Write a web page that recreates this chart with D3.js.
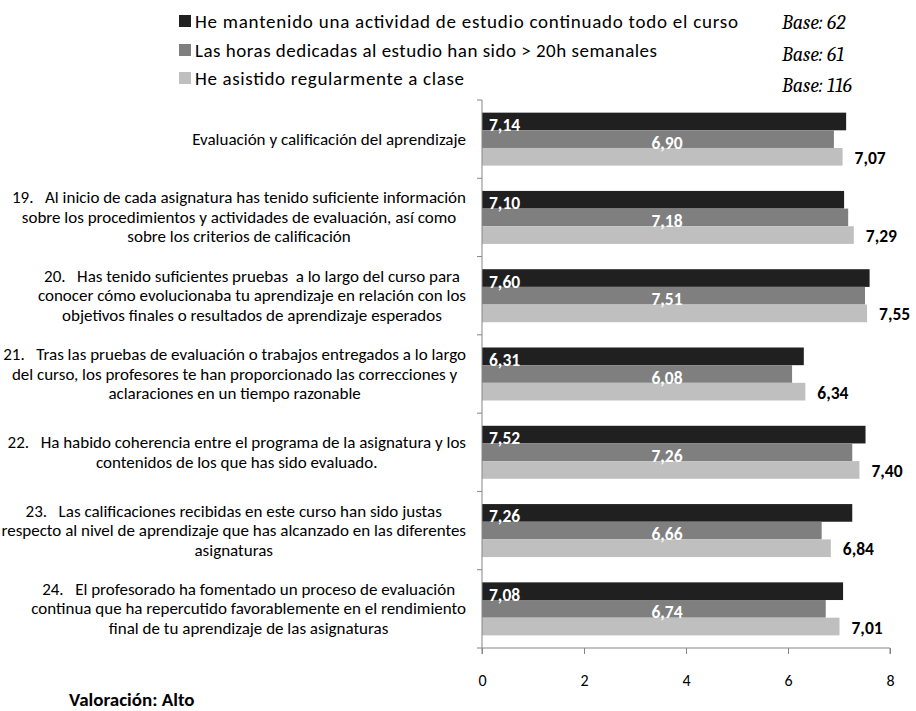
<!DOCTYPE html>
<html>
<head>
<meta charset="utf-8">
<script src="https://cdn.jsdelivr.net/npm/d3@7"></script>
<style>
  html, body { margin: 0; padding: 0; background: #fff; }
  svg { display: block; }
  text { white-space: pre; }
</style>
</head>
<body>
<svg id="chart" width="916" height="711"></svg>
<script>
// ---------- DATA ----------
const categories = [
  ["Evaluación y calificación del aprendizaje"],
  ["19.   Al inicio de cada asignatura has tenido suficiente información",
   "sobre los procedimientos y actividades de evaluación, así como",
   "sobre los criterios de calificación"],
  ["20.   Has tenido suficientes pruebas  a lo largo del curso para",
   "conocer cómo evolucionaba tu aprendizaje en relación con los",
   "objetivos finales o resultados de aprendizaje esperados"],
  ["21.   Tras las pruebas de evaluación o trabajos entregados a lo largo",
   "del curso, los profesores te han proporcionado las correcciones y",
   "aclaraciones en un tiempo razonable"],
  ["22.   Ha habido coherencia entre el programa de la asignatura y los",
   "contenidos de los que has sido evaluado."],
  ["23.   Las calificaciones recibidas en este curso han sido justas",
   "respecto al nivel de aprendizaje que has alcanzado en las diferentes",
   "asignaturas"],
  ["24.   El profesorado ha fomentado un proceso de evaluación",
   "continua que ha repercutido favorablemente en el rendimiento",
   "final de tu aprendizaje de las asignaturas"]
];
const seriesNames = [
  "He mantenido una actividad de estudio continuado todo el curso",
  "Las horas dedicadas al estudio han sido > 20h semanales",
  "He asistido regularmente a clase"
];
const bases = ["Base: 62", "Base: 61", "Base: 116"];
const valuesContinuo = [7.14, 7.10, 7.60, 6.31, 7.52, 7.26, 7.08];
const valuesHoras    = [6.90, 7.18, 7.51, 6.08, 7.26, 6.66, 6.74];
const valuesAsistido = [7.07, 7.29, 7.55, 6.34, 7.40, 6.84, 7.01];
const xTicks = [0, 2, 4, 6, 8];
const footnote = "Valoración: Alto";

// ---------- LAYOUT / STYLE ----------
const seriesValues = [valuesContinuo, valuesHoras, valuesAsistido];
const colors = ["#202020", "#7f7f7f", "#bfbfbf"];
const sansFont = "Carlito, Calibri, Lato, 'Open Sans', sans-serif";
const serifFont = "Cambria, 'Liberation Serif', 'DejaVu Serif', serif";
const plot = { left: 482, right: 890, top: 100, bottom: 648 };
const axisColor = "#868686";

const svg = d3.select("#chart");

const x = d3.scaleLinear().domain([0, 8]).range([plot.left, plot.right]);
const y = d3.scaleBand().domain(d3.range(categories.length))
  .range([plot.top, plot.bottom]).paddingInner(0.323).paddingOuter(0.1615);
const ySub = d3.scaleBand().domain(d3.range(seriesValues.length)).range([0, y.bandwidth()]);

// ---------- BARS ----------
const gBars = svg.append("g");
seriesValues.forEach((vals, s) => {
  gBars.selectAll(null).data(vals).enter().append("rect")
    .attr("x", x(0))
    .attr("y", (d, i) => y(i) + ySub(s))
    .attr("width", d => x(d) - x(0))
    .attr("height", ySub.bandwidth())
    .attr("fill", colors[s]);
});

// ---------- VALUE LABELS ----------
const fmt = v => v.toFixed(2).replace(".", ",");
const gLab = svg.append("g").attr("font-family", sansFont).attr("font-weight", "bold").attr("font-size", 17.5);
gLab.selectAll(null).data(valuesContinuo).enter().append("text")
  .attr("x", x(0) + 7)
  .attr("y", (d, i) => y(i) + ySub(0) + ySub.bandwidth() / 2 + 3.5)
  .attr("dominant-baseline", "central")
  .attr("fill", "#fff")
  .text(fmt);
gLab.selectAll(null).data(valuesHoras).enter().append("text")
  .attr("x", 667)
  .attr("text-anchor", "middle")
  .attr("y", (d, i) => y(i) + ySub(1) + ySub.bandwidth() / 2 + 3.5)
  .attr("dominant-baseline", "central")
  .attr("fill", "#fff")
  .text(fmt);
gLab.selectAll(null).data(valuesAsistido).enter().append("text")
  .attr("x", d => x(d) + 12)
  .attr("y", (d, i) => y(i) + ySub(2) + ySub.bandwidth() / 2 + 1)
  .attr("dominant-baseline", "central")
  .attr("fill", "#000")
  .text(fmt);

// ---------- Y AXIS (category axis) ----------
const gY = svg.append("g");
gY.append("line")
  .attr("x1", plot.left).attr("x2", plot.left)
  .attr("y1", plot.top).attr("y2", plot.bottom)
  .attr("stroke", axisColor).attr("stroke-width", 1);
const boundaries = d3.range(categories.length + 1).map(i => plot.top + i * y.step());
gY.selectAll(null).data(boundaries).enter().append("line")
  .attr("x1", plot.left - 5).attr("x2", plot.left)
  .attr("y1", d => d).attr("y2", d => d)
  .attr("stroke", axisColor).attr("stroke-width", 1);

// ---------- X AXIS ----------
const gX = svg.append("g")
  .attr("transform", `translate(0,${plot.bottom})`)
  .call(d3.axisBottom(x).tickValues(xTicks).tickSize(6).tickPadding(21).tickFormat(d3.format("d")));
gX.select(".domain").attr("stroke", axisColor).attr("d", `M${plot.left},6V0H${plot.right}V6`);
gX.selectAll(".tick line").attr("stroke", axisColor);
gX.selectAll(".tick text").attr("font-family", sansFont).attr("font-size", 16).attr("fill", "#000");

// ---------- CATEGORY LABELS ----------
const gCat = svg.append("g").attr("font-family", sansFont).attr("fill", "#000");
const probe = gCat.append("text").attr("font-size", 14).text(categories[0][0]);
const catSize = 14 * 274 / probe.node().getComputedTextLength();
probe.remove();
const lineH = 19.5;
const labelRight = 466;
categories.forEach((lines, i) => {
  const cy = y(i) + y.bandwidth() / 2;
  const g = gCat.append("g");
  const texts = lines.map((ln, k) => g.append("text")
    .attr("font-size", catSize)
    .attr("y", cy + (k - (lines.length - 1) / 2) * lineH)
    .attr("dominant-baseline", "central")
    .attr("text-anchor", "middle")
    .text(ln));
  const w = d3.max(texts, t => t.node().getComputedTextLength());
  texts.forEach(t => t.attr("x", labelRight - w / 2));
});

// ---------- LEGEND ----------
const legendY = [21, 50, 78];
const legendW = [543, 462, 269];
const gLeg = svg.append("g").attr("font-family", sansFont).attr("font-size", 19);
seriesNames.forEach((n, i) => {
  gLeg.append("rect").attr("x", 179).attr("y", legendY[i] - 6).attr("width", 12).attr("height", 12).attr("fill", colors[i]);
  gLeg.append("text").attr("x", 195).attr("y", legendY[i])
    .attr("dominant-baseline", "central").attr("fill", "#000")
    .attr("textLength", legendW[i]).attr("lengthAdjust", "spacing")
    .text(n);
});

// ---------- BASES ----------
const baseY = [22, 54, 85];
svg.append("g").attr("font-family", serifFont).attr("font-style", "italic").attr("font-size", 20)
  .selectAll(null).data(bases).enter().append("text")
  .attr("x", 782).attr("y", (d, i) => baseY[i])
  .attr("dominant-baseline", "central").attr("fill", "#000")
  .text(d => d);

// ---------- FOOTNOTE ----------
svg.append("text").attr("x", 69).attr("y", 699)
  .attr("dominant-baseline", "central")
  .attr("font-family", sansFont).attr("font-weight", "bold").attr("font-size", 19)
  .attr("fill", "#000").text(footnote);
</script>
</body>
</html>
